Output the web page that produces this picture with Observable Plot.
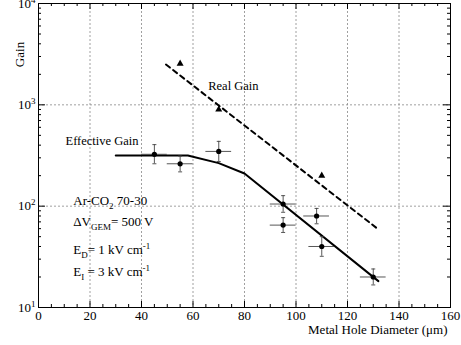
<!DOCTYPE html>
<html>
<head>
<meta charset="utf-8">
<script src="https://cdn.jsdelivr.net/npm/d3@7"></script>
<script src="https://cdn.jsdelivr.net/npm/@observablehq/plot@0.6"></script>
<style>
  html, body { margin: 0; padding: 0; background: #fff; }
  #chart svg { display: block; }
  #chart svg, #chart svg text, #chart svg g { font-family: "Liberation Serif", "DejaVu Serif", serif !important; }
</style>
</head>
<body>
<div id="chart"></div>
<script>
// ---- data ----
const effX   = [45, 55, 70, 95, 95, 108, 110, 130];
const effY   = [325, 262, 347, 105, 65, 80, 40, 20];
const effLo  = [262, 218, 276, 87, 55, 67, 32, 16.7];
const effHi  = [405, 312, 436, 127, 77, 95, 50, 24];
const effXErr = [5, 5, 5, 5, 5, 5, 5, 5];

const realX = [55, 70, 110];
const realY = [2550, 900, 200];

const effLineX = [30, 58, 70, 80, 132];
const effLineY = [316, 316, 266, 210, 18.2];

const realLineX = [49.5, 132];
const realLineY = [2500, 59];

const xMajor = [0, 20, 40, 60, 80, 100, 120, 140, 160];
const yMajor = [10, 100, 1000, 10000];
const yTickLabels = ["10^{1}", "10^{2}", "10^{3}", "10^{4}"];

const labelTexts = ["Real Gain", "Effective Gain"];
const labelX = [65.9, 10.5];
const labelY = [1545, 443];

const annoTexts = ["Ar-CO_{2} 70-30", "ΔV_{GEM}= 500 V", "E_{D}= 1 kV cm^{-1}", "E_{I} = 3 kV cm^{-1}"];
const annoX = [13.5, 13.5, 13.5, 13.5];
const annoY = [112, 70, 37.3, 22.5];

// ---- derived tables ----
const eff = effX.map((x, i) => ({x, y: effY[i], lo: effLo[i], hi: effHi[i], xe: effXErr[i]}));
const real = realX.map((x, i) => ({x, y: realY[i]}));
const effLine = effLineX.map((x, i) => ({x, y: effLineY[i]}));
const realLine = realLineX.map((x, i) => ({x, y: realLineY[i]}));
const labels = labelTexts.map((t, i) => ({t, x: labelX[i], y: labelY[i]}));
const anno = annoTexts.map((t, i) => ({t, x: annoX[i], y: annoY[i]}));

const xMinor = d3.range(0, 161, 5).filter(v => v % 20 !== 0);
const yMinor = [];
[10, 100, 1000].forEach(d => { for (let k = 2; k <= 9; k++) yMinor.push(d * k); });

const W = 461, H = 345, mt = 3, mb = 38, ml = 38, mr = 11;
const PH = H - mt - mb, PW = W - ml - mr;

const capSymbol = { draw(ctx, size) { const r = Math.sqrt(size / Math.PI); ctx.moveTo(-r, 0); ctx.lineTo(r, 0); } };

const font = "Liberation Serif, DejaVu Serif, serif";

const plot = Plot.plot({
  width: W, height: H,
  marginTop: mt, marginBottom: mb, marginLeft: ml, marginRight: mr,
  style: { fontFamily: font, fontSize: "13px", color: "black", background: "white" },
  x: { domain: [0, 160] },
  y: { type: "log", domain: [10, 10000] },
  marks: [
    Plot.gridX([20, 40, 60, 80, 100, 120, 140], { stroke: "#888", strokeOpacity: 1, strokeWidth: 0.8, strokeDasharray: "2,2" }),
    Plot.gridY([100, 1000], { stroke: "#888", strokeOpacity: 1, strokeWidth: 0.8, strokeDasharray: "2,2" }),
    // inward ticks
    Plot.tickX(xMajor, { x: d => d, insetTop: PH - 6, stroke: "black" }),
    Plot.tickX(xMajor, { x: d => d, insetBottom: PH - 6, stroke: "black" }),
    Plot.tickX(xMinor, { x: d => d, insetTop: PH - 3, stroke: "black" }),
    Plot.tickX(xMinor, { x: d => d, insetBottom: PH - 3, stroke: "black" }),
    Plot.tickY(yMajor, { y: d => d, insetRight: PW - 7, stroke: "black" }),
    Plot.tickY(yMajor, { y: d => d, insetLeft: PW - 7, stroke: "black" }),
    Plot.tickY(yMinor, { y: d => d, insetRight: PW - 3, stroke: "black" }),
    Plot.tickY(yMinor, { y: d => d, insetLeft: PW - 3, stroke: "black" }),
    Plot.axisX({ ticks: xMajor, tickSize: 0, tickPadding: 3, tickFormat: d => String(d), fontSize: 13, label: null }),
    Plot.axisY({ ticks: yMajor, tickSize: 0, tickPadding: 3, tickFormat: d => yTickLabels[yMajor.indexOf(d)], fontSize: 13, label: null }),
    Plot.frame({ stroke: "black", strokeWidth: 1 }),
    // real gain
    Plot.line(realLine, { x: "x", y: "y", stroke: "black", strokeWidth: 2, strokeDasharray: "5,4" }),
    Plot.dot(real, { x: "x", y: "y", symbol: "triangle", r: 2.6, fill: "black", stroke: "none" }),
    // effective gain
    Plot.line(effLine, { x: "x", y: "y", stroke: "black", strokeWidth: 2 }),
    Plot.ruleX(eff, { x: "x", y1: "lo", y2: "hi", stroke: "#444", strokeWidth: 0.9 }),
    Plot.ruleY(eff, { y: "y", x1: d => d.x - d.xe, x2: d => d.x + d.xe, stroke: "#444", strokeWidth: 0.9 }),
    Plot.dot(eff, { x: "x", y: "lo", symbol: capSymbol, r: 2, stroke: "#444", strokeWidth: 0.9 }),
    Plot.dot(eff, { x: "x", y: "hi", symbol: capSymbol, r: 2, stroke: "#444", strokeWidth: 0.9 }),
    Plot.dot(eff, { x: "x", y: "y", r: 2.6, fill: "black", stroke: "none" }),
    // labels
    Plot.text(labels, { x: "x", y: "y", text: "t", textAnchor: "start", fontSize: 12.5, fill: "black" }),
    Plot.text(anno, { x: "x", y: "y", text: "t", textAnchor: "start", fontSize: 13, fill: "black" }),
    Plot.text(["Gain"], { frameAnchor: "top-left", textAnchor: "middle", lineAnchor: "middle", dx: -19, dy: 51, rotate: -90, fontSize: 13, fill: "black" }),
    Plot.text(["Metal Hole Diameter (μm)"], { frameAnchor: "bottom-right", textAnchor: "end", dx: -3, dy: 26, fontSize: 13, fill: "black" })
  ]
});

plot.style.fontFamily = font;
plot.setAttribute("font-family", font);
plot.querySelectorAll("[font-family]").forEach(e => e.setAttribute("font-family", font));

// render _{sub} and ^{sup} markup as tspans
const re = /([_^])\{([^}]*)\}/g;
plot.querySelectorAll("text").forEach(t => {
  const s = t.textContent;
  if (!/[_^]\{/.test(s)) return;
  const parts = [];
  let last = 0, m;
  re.lastIndex = 0;
  while ((m = re.exec(s))) {
    if (m.index > last) parts.push({ s: s.slice(last, m.index), k: "n" });
    parts.push({ s: m[2], k: m[1] === "_" ? "sub" : "sup" });
    last = re.lastIndex;
  }
  if (last < s.length) parts.push({ s: s.slice(last), k: "n" });
  while (t.firstChild) t.removeChild(t.firstChild);
  let shift = 0;
  parts.forEach(p => {
    const ts = document.createElementNS("http://www.w3.org/2000/svg", "tspan");
    ts.textContent = p.s;
    const target = p.k === "sub" ? 4 : p.k === "sup" ? -5 : 0;
    const dy = target - shift;
    if (dy !== 0) ts.setAttribute("dy", dy);
    shift = target;
    if (p.k !== "n") ts.setAttribute("font-size", "9");
    t.appendChild(ts);
  });
});

document.getElementById("chart").appendChild(plot);
</script>
</body>
</html>
